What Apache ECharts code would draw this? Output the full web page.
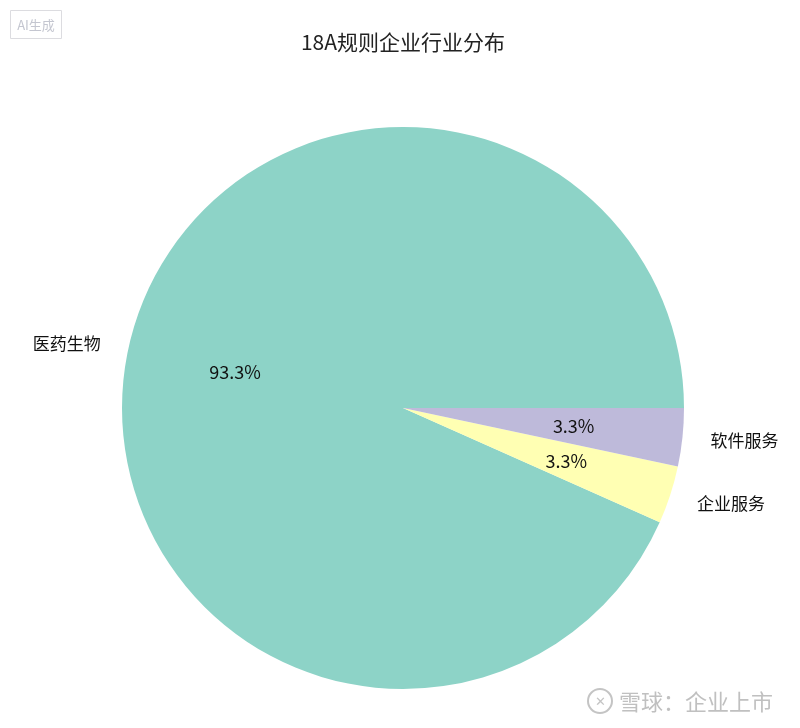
<!DOCTYPE html>
<html><head><meta charset="utf-8">
<script src="https://cdn.jsdelivr.net/npm/echarts@6/dist/echarts.min.js"></script>
<style>html,body{margin:0;padding:0;background:#fff}#c{width:800px;height:728px}</style>
</head><body><div id="c"></div>
<script>
const categories = ['医药生物', '企业服务', '软件服务'];
const counts = [28, 1, 1];
const colors = ['#8dd3c7', '#ffffb3', '#bebada'];
const titleText = '18A规则企业行业分布';

const FONT = '"Noto Sans CJK SC", "Noto Sans", sans-serif';
const cx = 403, cy = 408, R = 281;
const total = counts.reduce((a, b) => a + b, 0);
const pct = v => (v / total * 100).toFixed(1) + '%';

const baseData = categories.map((c, i) => ({ name: c, value: counts[i], itemStyle: { color: colors[i] } }));

const chart = echarts.init(document.getElementById('c'), null, { renderer: 'canvas' });
chart.setOption({
  animation: false,
  backgroundColor: '#fff',
  title: {
    text: titleText, left: 398, top: 27, textAlign: 'center',
    textStyle: { fontFamily: FONT, fontSize: 21, fontWeight: 'normal', color: '#222' }
  },
  graphic: [
    { type: 'rect', shape: { x: 10.5, y: 10.5, width: 51, height: 28 }, style: { fill: 'none', stroke: '#dcdce0', lineWidth: 1 } },
    { type: 'text', x: 36, y: 25, style: { text: 'AI生成', fontFamily: FONT, fontSize: 13, fill: '#c4c6d0', align: 'center', verticalAlign: 'middle' } },
    { type: 'circle', shape: { cx: 600, cy: 701, r: 12 }, style: { fill: 'none', stroke: '#c4c4c4', lineWidth: 2 } },
    { type: 'text', x: 600, y: 702, style: { text: '✕', fontSize: 13, fill: '#c4c4c4', align: 'center', verticalAlign: 'middle' } },
    { type: 'text', x: 619, y: 702, style: { text: '雪球：企业上市', fontFamily: FONT, fontSize: 22, fill: '#c0c0c0', align: 'left', verticalAlign: 'middle' } }
  ],
  series: [
    {
      type: 'pie', center: [cx, cy], radius: [0, R], startAngle: 0, clockwise: false,
      avoidLabelOverlap: false,
      data: baseData,
      label: {
        show: true, position: 'outside', fontFamily: FONT, fontSize: 17, color: '#111',
        formatter: '{b}', distanceToLabelLine: 0, alignTo: 'none'
      },
      labelLine: { show: false, length: R * 0.1, length2: 0 },
      itemStyle: { borderWidth: 0 }, emphasis: { disabled: true }, silent: true
    },
    {
      type: 'pie', center: [cx, cy], radius: [R * 0.2, R], startAngle: 0, clockwise: false,
      data: baseData.map(d => ({ name: d.name, value: d.value, itemStyle: { color: 'rgba(0,0,0,0)' } })),
      label: {
        show: true, position: 'inside', fontFamily: FONT, fontSize: 18, color: '#111',
        formatter: p => pct(p.value)
      },
      labelLine: { show: false }, emphasis: { disabled: true }, silent: true
    }
  ]
});
</script></body></html>
